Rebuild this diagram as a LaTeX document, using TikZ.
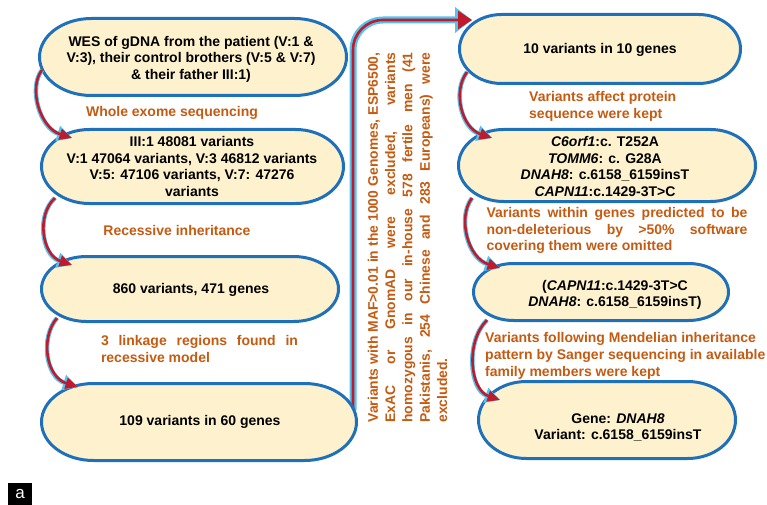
\documentclass[tikz,border=0pt]{standalone}
\usepackage{fontspec}
\setmainfont{Liberation Sans}
\usetikzlibrary{arrows.meta,calc}
\definecolor{boxfill}{RGB}{253,242,205}
\definecolor{boxline}{RGB}{30,112,186}
\definecolor{labcol}{RGB}{197,90,17}
\definecolor{ribred}{RGB}{190,28,45}
\definecolor{ribcyan}{RGB}{85,195,238}
\tikzset{
  boxarea/.style 2 args={draw=none, minimum width=#1, minimum height=#2, inner sep=0pt, outer sep=0pt},
  stadline/.style={draw=boxline, line width=3pt, fill=boxfill},
  boxtext/.style={align=center, inner sep=0pt, font=\bfseries\fontsize{14}{16.5}\selectfont},
  lab/.style={text=labcol, inner sep=0pt, font=\bfseries\fontsize{14}{16.8}\selectfont},
  ribback/.style={draw=ribcyan, line width=4.5pt, -{Triangle[length=15pt,width=15pt]}},
  ribfront/.style={draw=ribred, line width=2.6pt, -{Triangle[length=12.5pt,width=11pt]}},
  bigback/.style={draw=ribcyan, line width=7pt, rounded corners=30pt, -{Triangle[length=17pt,width=25pt]}},
  bigfront/.style={draw=ribred, line width=2.6pt, rounded corners=30pt, -{Triangle[length=14pt,width=18pt]}},
}
\newcommand\ribbonarrow[1]{\draw[ribback] #1; \draw[ribfront] #1;}
% stadium outline with elliptical ends around node #1, end half-width #2
\newcommand\stad[2]{%
  \coordinate (sNW) at ($(#1.north west)+(#2,0)$);
  \coordinate (sNE) at ($(#1.north east)+(-#2,0)$);
  \coordinate (sSE) at ($(#1.south east)+(-#2,0)$);
  \coordinate (sSW) at ($(#1.south west)+(#2,0)$);
  \draw[stadline] (sNW) -- (sNE)
    .. controls ($(sNE)!0.5523!(#1.north east)$) and ($(#1.east)!0.5523!(#1.north east)$) .. (#1.east)
    .. controls ($(#1.east)!0.5523!(#1.south east)$) and ($(sSE)!0.5523!(#1.south east)$) .. (sSE)
    -- (sSW)
    .. controls ($(sSW)!0.5523!(#1.south west)$) and ($(#1.west)!0.5523!(#1.south west)$) .. (#1.west)
    .. controls ($(#1.west)!0.5523!(#1.north west)$) and ($(sNW)!0.5523!(#1.north west)$) .. (sNW)
    -- cycle;}
\begin{document}
\begin{tikzpicture}[x=1pt,y=-1pt]
\useasboundingbox (0,0) rectangle (767,505);
% big arrow
\coordinate (bigs) at (353,410);
\coordinate (bigc) at (353,20);
\coordinate (bige) at (472,20);
\draw[bigback] (bigs) -- (bigc) -- (bige);
\draw[bigfront] (bigs) -- (bigc) -- (bige);
% boxes
\node[boxarea={307}{77}] (b1) at (193,57) {};
\node[boxarea={302}{74}] (b2) at (192.5,166.5) {};
\node[boxarea={297}{65}] (b3) at (190,289) {};
\node[boxarea={315}{77}] (b4) at (199,422) {};
\node[boxarea={281}{69}] (b5) at (600,49) {};
\node[boxarea={297}{72}] (b6) at (607,165.5) {};
\node[boxarea={255}{57}] (b7) at (601,292) {};
\node[boxarea={257}{77}] (b8) at (607,420) {};
\stad{b1}{52}
\stad{b2}{48}
\stad{b3}{45}
\stad{b4}{52}
\stad{b5}{42}
\stad{b6}{45}
\stad{b7}{40}
\stad{b8}{48}
% box texts
\node[boxtext] (t1) at (191,59) {WES of gDNA from the patient (V:1 \&\\V:3), their control brothers (V:5 \& V:7)\\\& their father III:1)};
\node[boxtext] (t2) at (192,166.5) {III:1 48081 variants\\V:1 47064 variants, V:3 46812 variants\\V:5: 47106 variants, V:7: 47276\\variants};
\node[boxtext] (t3) at (191,290) {860 variants, 471 genes};
\node[boxtext] (t4) at (200,422) {109 variants in 60 genes};
\node[boxtext] (t5) at (600,50) {10 variants in 10 genes};
\node[boxtext] (t6) at (605,166.5) {\textit{C6orf1}:c. T252A\\\textit{TOMM6}: c. G28A\\\textit{DNAH8}: c.6158\_6159insT\\\textit{CAPN11}:c.1429-3T>C};
\node[boxtext] (t7) at (615,295) {(\textit{CAPN11}:c.1429-3T>C\\\textit{DNAH8}: c.6158\_6159insT)};
\node[boxtext, font=\bfseries\fontsize{14}{15.5}\selectfont] (t8) at (618,427.5) {Gene: \textit{DNAH8}\\Variant: c.6158\_6159insT};
% labels
\node[lab] (l1) at (172,113) {Whole exome sequencing};
\node[lab] (l2) at (177,230) {Recessive inheritance};
\node[lab, text width=197, align=justify] (l3) at (199.5,349) {3 linkage regions found in\linebreak recessive model};
\node[lab, align=left, anchor=west] (l5) at (529,106.5) {Variants affect protein\\sequence were kept};
\node[lab, text width=261, align=justify] (l6) at (617,230.5) {Variants within genes predicted to be\linebreak non-deleterious by >50\% software\linebreak covering them were omitted};
\node[lab, align=left, anchor=west] (l7) at (485,356) {Variants following Mendelian inheritance\\pattern by Sanger sequencing in available\\family members were kept};
\node[lab, rotate=90, text width=370, align=justify, font=\bfseries\fontsize{13.9}{17.3}\selectfont] (rot) at (407.5,237.5) {Variants with MAF>0.01 in the 1000 Genomes, ESP6500,\linebreak ExAC or GnomAD were excluded, variants\linebreak homozygous in our in-house 578 fertile men (41\linebreak Pakistanis, 254 Chinese and 283 Europeans) were\linebreak excluded.};
% small arrows
\coordinate (a1s) at (42,70);  \coordinate (a1e) at (72,138);
\coordinate (a2s) at (55,198); \coordinate (a2e) at (72,265);
\coordinate (a3s) at (57,318); \coordinate (a3e) at (78,387);
\coordinate (a5s) at (467,72); \coordinate (a5e) at (492,138);
\coordinate (a6s) at (472,198); \coordinate (a6e) at (500,268);
\coordinate (a7s) at (487,320); \coordinate (a7e) at (500,400);
\ribbonarrow{(a1s) .. controls (28,88) and (40,128) .. (a1e)}
\ribbonarrow{(a2s) .. controls (36,215) and (42,255) .. (a2e)}
\ribbonarrow{(a3s) .. controls (40,338) and (46,377) .. (a3e)}
\ribbonarrow{(a5s) .. controls (452,92) and (462,128) .. (a5e)}
\ribbonarrow{(a6s) .. controls (457,218) and (468,258) .. (a6e)}
\ribbonarrow{(a7s) .. controls (465,342) and (470,390) .. (a7e)}
% panel label
\node[fill=black, text=white, inner sep=0pt, minimum width=24, minimum height=22, font=\fontsize{17}{17}\selectfont] (alab) at (20,494) {a};
\end{tikzpicture}
\end{document}
